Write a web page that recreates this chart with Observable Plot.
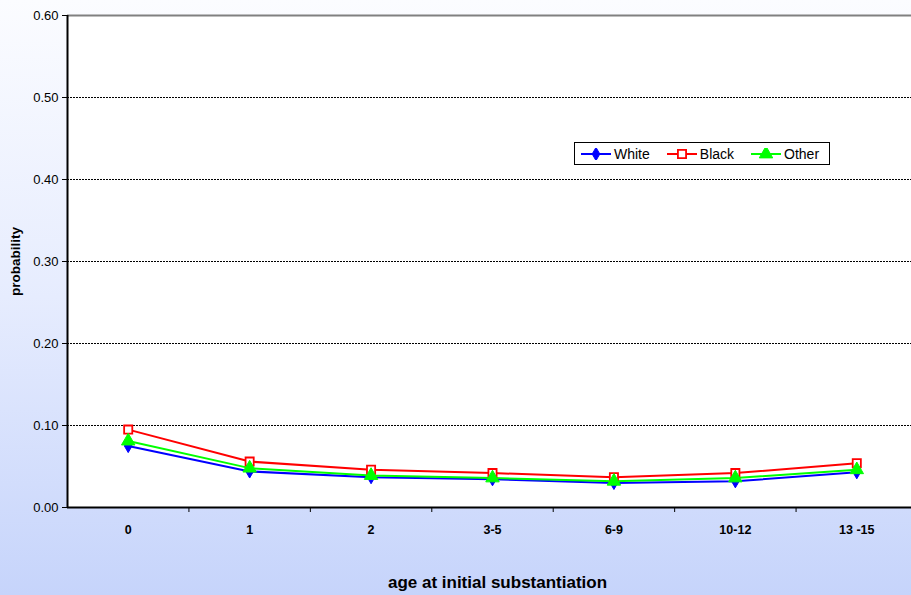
<!DOCTYPE html>
<html>
<head>
<meta charset="utf-8">
<script src="https://cdn.jsdelivr.net/npm/d3@7"></script>
<script src="https://cdn.jsdelivr.net/npm/@observablehq/plot@0.6"></script>
<style>
  html, body { margin: 0; padding: 0; }
  #wrap {
    position: relative; width: 911px; height: 595px; overflow: hidden;
    background: linear-gradient(to bottom, #fbfcff 0%, #e6ecfe 50%, #c6d4fb 100%);
    font-family: "Liberation Sans", Arial, sans-serif;
  }
  #legend {
    position: absolute; left: 574px; top: 142px; width: 256px; height: 23px; box-sizing: border-box;
    border: 1.5px solid #000; background: #fff; display: flex; align-items: center;
    font-size: 14px; color: #000; padding-left: 6px;
  }
  #legend .item { display: flex; align-items: center; margin-right: 17px; }
  #legend svg { margin-right: 3px; }
</style>
</head>
<body>
<div id="wrap"><div id="chart"></div><div id="legend"></div></div>
<script>
const categories = ["0", "1", "2", "3-5", "6-9", "10-12", "13 -15"];
const white = [0.075, 0.044, 0.037, 0.0345, 0.030, 0.032, 0.043];
const black = [0.095, 0.056, 0.046, 0.042, 0.037, 0.042, 0.054];
const other = [0.081, 0.048, 0.039, 0.036, 0.032, 0.036, 0.046];
const yTicks = [0, 0.1, 0.2, 0.3, 0.4, 0.5, 0.6];
const gridLines = [0.1, 0.2, 0.3, 0.4, 0.5];

const series = [
  {name: "White", values: white, color: "#0000ff", symbol: "diamond", r: 4, fill: "#0000ff"},
  {name: "Black", values: black, color: "#ff0000", symbol: "square", r: 4.6, fill: "#ffffff"},
  {name: "Other", values: other, color: "#00ff00", symbol: "triangle", r: 5, fill: "#00ff00"}
];

const rows = series.flatMap(s => s.values.map((v, i) => ({series: s.name, i, v})));
const idx = categories.map((c, i) => i);
const bounds = categories.slice(0, -1).map((c, i) => i + 0.5);

const marks = [
  Plot.frame({fill: "white", stroke: null}),
  Plot.ruleY(gridLines, {stroke: "#000", strokeWidth: 1, strokeDasharray: "2,1"}),
  Plot.ruleY([0.6], {stroke: "#808080", strokeWidth: 2}),
];
for (const s of series) {
  const d = rows.filter(r => r.series === s.name);
  marks.push(Plot.line(d, {x: "i", y: "v", stroke: s.color, strokeWidth: 2}));
}
for (const s of series) {
  const d = rows.filter(r => r.series === s.name);
  marks.push(Plot.dot(d, {x: "i", y: "v", symbol: () => s.symbol, r: s.r, fill: s.fill,
    stroke: s.color, strokeWidth: s.symbol === "square" ? 1.8 : 1}));
}
marks.push(
  Plot.ruleX([-0.5], {stroke: "#000", strokeWidth: 2}),
  Plot.ruleY([0], {stroke: "#000", strokeWidth: 2}),
  Plot.axisY(yTicks, {tickSize: 5, tickPadding: 4, tickFormat: d3.format(".2f"), fontSize: 13,
    label: "probability", labelAnchor: "center", labelArrow: "none", labelOffset: 57}),
  Plot.axisX(bounds, {tickSize: 5, tickFormat: () => "", label: null}),
  Plot.axisX(idx, {tickSize: 0, tickPadding: 18, tickFormat: i => categories[i], fontSize: 12.5,
    fontWeight: "bold", label: "age at initial substantiation", labelAnchor: "center",
    labelArrow: "none", labelOffset: 80})
);

const chart = Plot.plot({
  width: 911, height: 595,
  marginTop: 15, marginBottom: 88, marginLeft: 67, marginRight: 0,
  style: {background: "transparent", fontFamily: "'Liberation Sans', Arial, sans-serif", color: "#000"},
  x: {type: "linear", domain: [-0.5, 6.5], range: [67, 917]},
  y: {domain: [0, 0.6]},
  symbol: {type: "identity"},
  marks
});
document.getElementById("chart").appendChild(chart);

function styleGroup(match, css, attrs = {}) {
  chart.querySelectorAll("g[aria-label]").forEach(g => {
    if (!match(g.getAttribute("aria-label"))) return;
    const targets = [g, ...g.querySelectorAll("text")];
    for (const t of targets) {
      for (const [k, v] of Object.entries(css)) t.style.setProperty(k, v);
      for (const [k, v] of Object.entries(attrs)) t.setAttribute(k, v);
    }
  });
}
styleGroup(l => /^y-axis tick label/.test(l), {"font-size": "13px"});
styleGroup(l => /^x-axis tick label/.test(l), {"font-size": "12.5px", "font-weight": "bold"});
styleGroup(l => l === "y-axis label", {"font-size": "13.5px", "font-weight": "bold"});
styleGroup(l => l === "x-axis label", {"font-size": "17px", "font-weight": "bold"}, {"dx": "8"});

// legend
const legend = document.getElementById("legend");
for (const s of series) {
  const item = document.createElement("div");
  item.className = "item";
  const sym = d3.symbol(s.symbol === "diamond" ? d3.symbolDiamond : s.symbol === "square" ? d3.symbolSquare : d3.symbolTriangle, s.r * s.r * Math.PI)();
  item.innerHTML = `<svg width="30" height="12"><line x1="0" x2="30" y1="6" y2="6" stroke="${s.color}" stroke-width="2"/>` +
    `<path d="${sym}" transform="translate(15,6)" fill="${s.fill}" stroke="${s.color}" stroke-width="${s.symbol === 'square' ? 1.8 : 1}"/></svg><span>${s.name}</span>`;
  legend.appendChild(item);
}
</script>
</body>
</html>
